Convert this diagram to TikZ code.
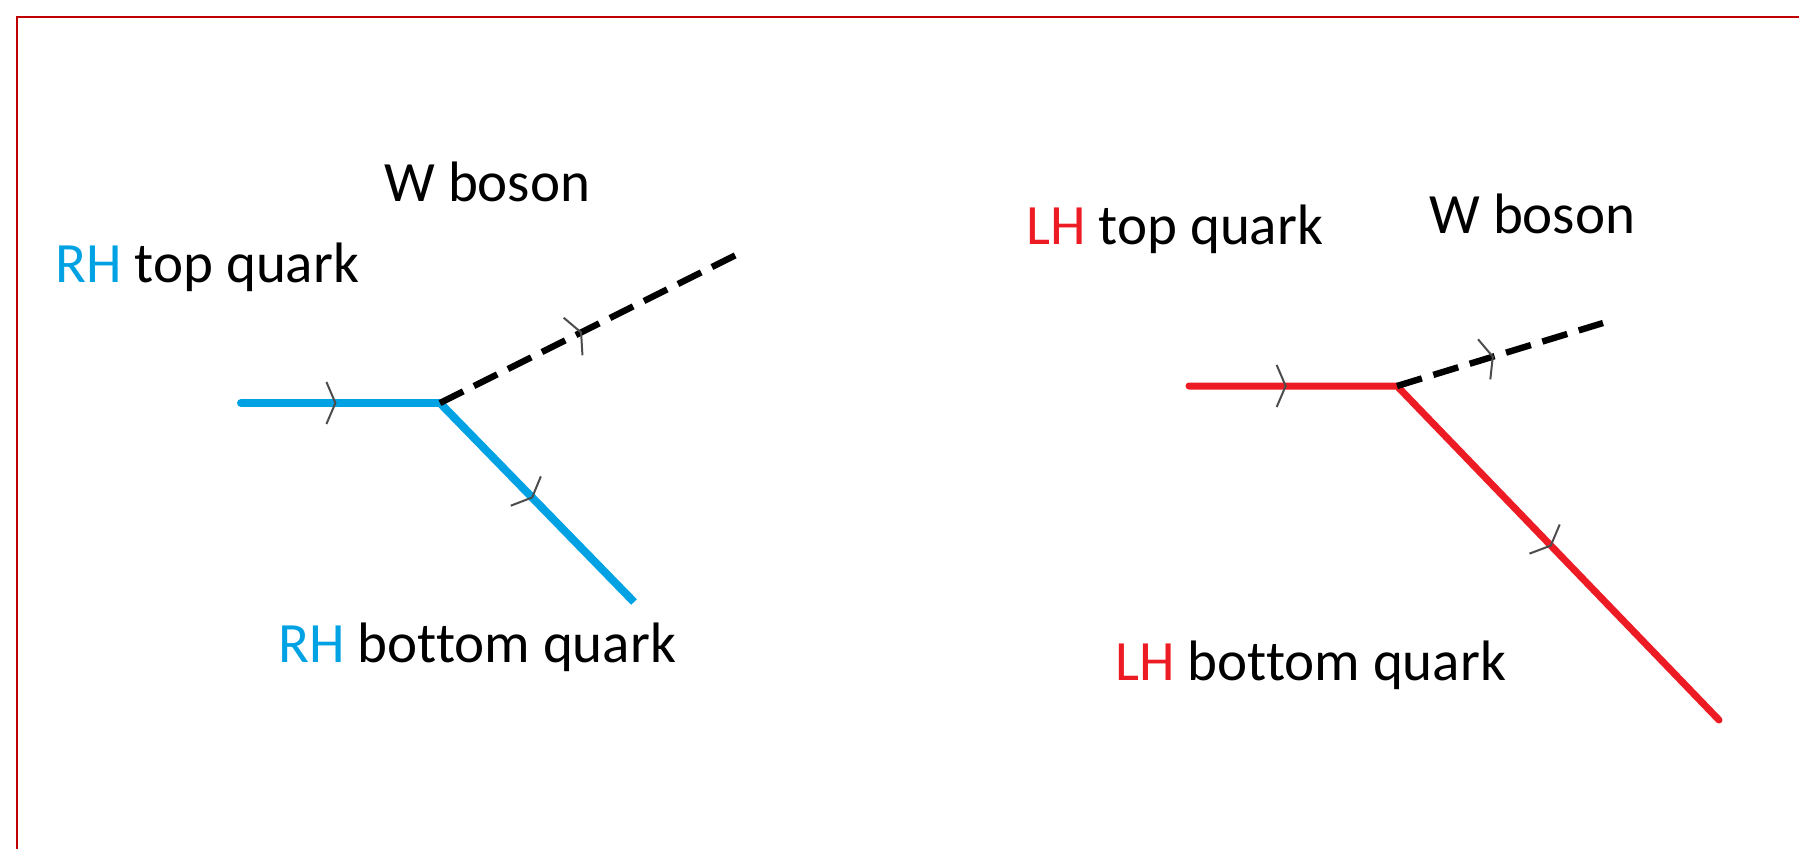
\documentclass[tikz,border=0pt]{standalone}
\usepackage{fontspec}
\setmainfont{Carlito}[Ligatures=NoCommon]
\usetikzlibrary{arrows.meta,decorations.markings}
\definecolor{rhblue}{RGB}{0,162,228}
\definecolor{lhred}{RGB}{237,28,36}
\definecolor{framered}{RGB}{192,0,0}
\begin{document}
\begin{tikzpicture}[x=0.5pt,y=-0.5pt,
  lbl/.style={anchor=base west, inner sep=0pt, font=\fontsize{28.5pt}{34pt}\selectfont},
  rhline/.style={draw=rhblue, line width=4pt},
  lhline/.style={draw=lhred, line width=3.5pt, line cap=round},
  wline/.style={draw=black, line width=3.2pt, dash pattern=on 13pt off 6pt},
  flow/.style={decorate, decoration={markings, mark=at position #1 with {\arrow[draw=black!70, line width=1pt]{Straight Barb[length=4.5pt,width=21pt]}}}}
]
\useasboundingbox (0,0) rectangle (1799,848);
\begin{scope}
\clip (0,0) rectangle (1799,848);
\draw[framered, line width=1.2pt] (17,17) rectangle (1830,880);
\end{scope}
% left diagram
\coordinate (tL) at (241,403);
\coordinate (vL) at (440,403);
\coordinate (wL) at (736,255);
\coordinate (bL) at (634,602);
\draw[rhline, line cap=round] (tL) -- (vL);
\draw[rhline] (vL) -- (bL);
\draw[wline] (vL) -- (wL);
\path[flow=0.48] (tL) -- (vL);
\path[flow=0.48] (vL) -- (wL);
\path[flow=0.48] (vL) -- (bL);
\node[lbl] (wbosL) at (384,201) {W boson};
\node[lbl] (topL) at (55,282) {\textcolor{rhblue}{RH} top quark};
\node[lbl] (botL) at (278,662) {\textcolor{rhblue}{RH} bottom quark};
% right diagram
\coordinate (tR) at (1189,386);
\coordinate (vR) at (1397,386);
\coordinate (wR) at (1603,323);
\coordinate (bR) at (1719,720);
\draw[lhline] (tR) -- (vR) -- (bR);
\draw[wline] (vR) -- (wR);
\path[flow=0.47] (tR) -- (vR);
\path[flow=0.47] (vR) -- (wR);
\path[flow=0.48] (vR) -- (bR);
\node[lbl] (topR) at (1026,244) {\textcolor{lhred}{LH} top quark};
\node[lbl] (wbosR) at (1429,233) {W boson};
\node[lbl] (botR) at (1115,680) {\textcolor{lhred}{LH} bottom quark};
\end{tikzpicture}
\end{document}
